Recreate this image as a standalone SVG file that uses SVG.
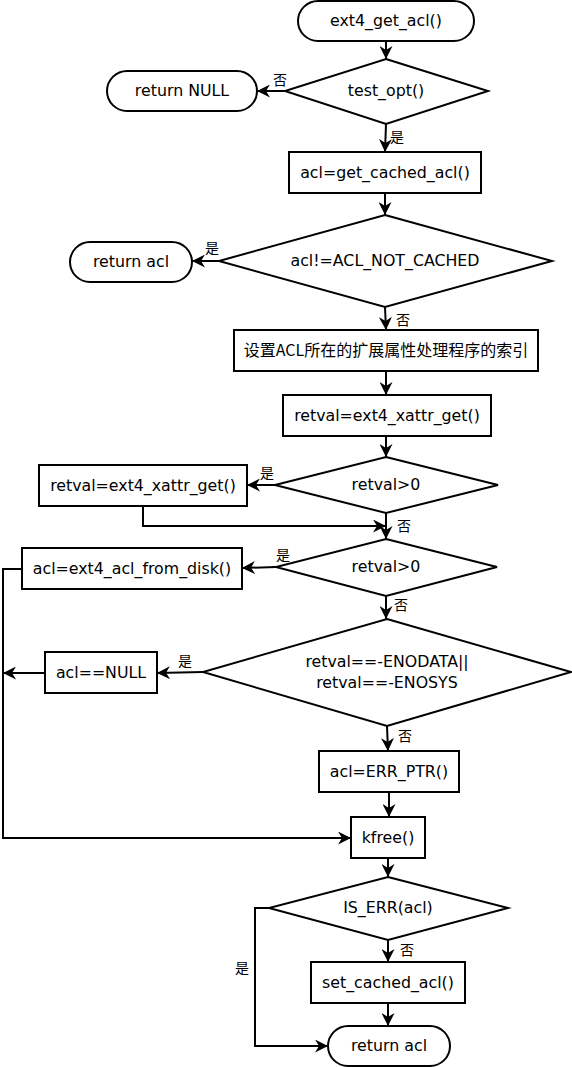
<svg xmlns="http://www.w3.org/2000/svg" width="572" height="1067" viewBox="0 0 572 1067">
<style>
.n{fill:#fff;stroke:#000;stroke-width:2}
.t{font-family:"DejaVu Sans","Noto Sans CJK SC",sans-serif;font-size:15.8px;fill:#000;text-anchor:middle}
.c{font-family:"Noto Sans CJK SC",sans-serif;font-size:16px;fill:#000;text-anchor:middle}
.l{font-family:"Noto Sans CJK SC",sans-serif;font-size:14px;fill:#000}
.e{fill:none;stroke:#000;stroke-width:2}
</style>
<defs>
<marker id="a" viewBox="0 0 13 13" refX="13" refY="6.5" markerWidth="13" markerHeight="13" markerUnits="userSpaceOnUse" orient="auto">
<path d="M0,0 L13,6.5 L0,13 L4,6.5 z" fill="#000"/>
</marker>
</defs>
<rect width="572" height="1067" fill="#fff"/>
<g id="connectors">
<path class="e" d="M386,41 V59" marker-end="url(#a)"/>
<path class="e" d="M285,91 H257" marker-end="url(#a)"/>
<path class="e" d="M386,124 L385,152" marker-end="url(#a)"/>
<path class="e" d="M385,193 V215" marker-end="url(#a)"/>
<path class="e" d="M219,261 H192" marker-end="url(#a)"/>
<path class="e" d="M385,307 L386,330" marker-end="url(#a)"/>
<path class="e" d="M386,371 V395" marker-end="url(#a)"/>
<path class="e" d="M386,436 V457" marker-end="url(#a)"/>
<path class="e" d="M275,485 H247" marker-end="url(#a)"/>
<path class="e" d="M386,513 V539" marker-end="url(#a)"/>
<path class="e" d="M143,506 V526 H386" marker-end="url(#a)"/>
<path class="e" d="M276,567 L242,568" marker-end="url(#a)"/>
<path class="e" d="M386,596 V619" marker-end="url(#a)"/>
<path class="e" d="M22,569 H3 V838 H351" marker-end="url(#a)"/>
<path class="e" d="M203,672 L157,673" marker-end="url(#a)"/>
<path class="e" d="M45,673 H3" marker-end="url(#a)"/>
<path class="e" d="M387,726 L388,751" marker-end="url(#a)"/>
<path class="e" d="M389,792 V817" marker-end="url(#a)"/>
<path class="e" d="M388,858 V877" marker-end="url(#a)"/>
<path class="e" d="M388,940 V962" marker-end="url(#a)"/>
<path class="e" d="M269,908 H255 V1046 H328" marker-end="url(#a)"/>
<path class="e" d="M388,1003 V1026" marker-end="url(#a)"/>
<text class="l" x="273" y="85">否</text>
<text class="l" x="390" y="142">是</text>
<text class="l" x="205" y="253">是</text>
<text class="l" x="396" y="325">否</text>
<text class="l" x="260" y="478">是</text>
<text class="l" x="397" y="531">否</text>
<text class="l" x="276" y="560">是</text>
<text class="l" x="394" y="610">否</text>
<text class="l" x="178" y="666">是</text>
<text class="l" x="398" y="741">否</text>
<text class="l" x="400" y="955">否</text>
<text class="l" x="235" y="973">是</text>
</g>
<g id="n1"><rect class="n" x="298" y="1" width="176" height="40" rx="20"/><text class="t" x="386" y="26">ext4_get_acl()</text></g>
<g id="n2"><polygon class="n" points="386,59 488,91 386,124 285,91"/><text class="t" x="386" y="96">test_opt()</text></g>
<g id="n3"><rect class="n" x="107" y="71" width="150" height="40" rx="20"/><text class="t" x="182" y="96">return NULL</text></g>
<g id="n4"><rect class="n" x="289" y="152" width="192" height="41"/><text class="t" x="385" y="178">acl=get_cached_acl()</text></g>
<g id="n5"><polygon class="n" points="385,215 552,261 385,307 219,261"/><text class="t" x="385" y="266">acl!=ACL_NOT_CACHED</text></g>
<g id="n6"><rect class="n" x="70" y="242" width="122" height="40" rx="20"/><text class="t" x="131" y="267">return acl</text></g>
<g id="n7"><rect class="n" x="234" y="330" width="304" height="41"/><text class="c" x="386" y="356">设置ACL所在的扩展属性处理程序的索引</text></g>
<g id="n8"><rect class="n" x="283" y="395" width="208" height="41"/><text class="t" x="387" y="421">retval=ext4_xattr_get()</text></g>
<g id="n9"><polygon class="n" points="386,457 498,485 386,513 275,485"/><text class="t" x="386" y="490">retval&gt;0</text></g>
<g id="n10"><rect class="n" x="39" y="465" width="208" height="41"/><text class="t" x="143" y="491">retval=ext4_xattr_get()</text></g>
<g id="n11"><polygon class="n" points="386,539 497,567 386,596 276,567"/><text class="t" x="386" y="572">retval&gt;0</text></g>
<g id="n12"><rect class="n" x="22" y="548" width="220" height="41"/><text class="t" x="132" y="574">acl=ext4_acl_from_disk()</text></g>
<g id="n13"><polygon class="n" points="387,619 571,672 387,726 203,672"/><text class="t" x="387" y="667">retval==-ENODATA||</text><text class="t" x="387" y="688">retval==-ENOSYS</text></g>
<g id="n14"><rect class="n" x="45" y="652" width="112" height="41"/><text class="t" x="101" y="678">acl==NULL</text></g>
<g id="n15"><rect class="n" x="319" y="751" width="140" height="41"/><text class="t" x="389" y="777">acl=ERR_PTR()</text></g>
<g id="n16"><rect class="n" x="351" y="817" width="74" height="41"/><text class="t" x="388" y="843">kfree()</text></g>
<g id="n17"><polygon class="n" points="388,877 508,908 388,940 269,908"/><text class="t" x="388" y="913">IS_ERR(acl)</text></g>
<g id="n18"><rect class="n" x="311" y="962" width="154" height="41"/><text class="t" x="388" y="988">set_cached_acl()</text></g>
<g id="n19"><rect class="n" x="328" y="1026" width="122" height="40" rx="20"/><text class="t" x="389" y="1051">return acl</text></g>
</svg>
